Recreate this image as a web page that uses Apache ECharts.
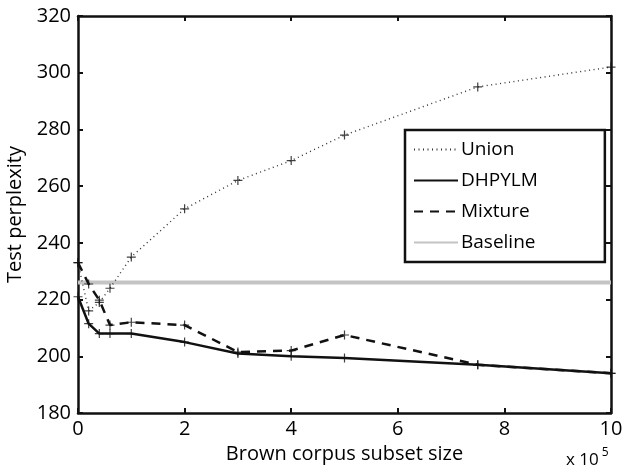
<!DOCTYPE html>
<html>
<head>
<meta charset="utf-8">
<script src="https://cdn.jsdelivr.net/npm/echarts@6/dist/echarts.min.js"></script>
<style>
  html, body { margin: 0; padding: 0; background: #fff; }
  #chart { width: 626px; height: 465px; }
</style>
</head>
<body>
<div id="chart"></div>
<script>
// subset sizes in units of 10^5 words
const sizes = [0, 0.2, 0.4, 0.6, 1, 2, 3, 4, 5, 7.5, 10];

const unionVals   = [233, 216, 219, 224, 235, 252, 262, 269, 278, 295, 302];
const dhpylmVals  = [221, 211.5, 208, 208, 208, 205, 201, 200, 199.4, 197, 194];
const mixtureVals = [233, 225.5, 219.8, 211, 212, 211, 201.5, 202, 207.5, 197, 194];
const baselineVal = 226;

const yTicks = [180, 200, 220, 240, 260, 280, 300, 320];
const xTicks = [0, 2, 4, 6, 8, 10];

const FONT = 'Open Sans';

function pairs(vals) {
  return sizes.map((x, i) => [x, vals[i]]);
}

const plus = 'path://M-1,0 L1,0 M0,-1 L0,1';

function markers(vals) {
  return {
    type: 'scatter',
    data: pairs(vals),
    symbol: plus,
    symbolSize: 9,
    itemStyle: { color: 'transparent', borderColor: '#111', borderWidth: 1.2 },
    silent: true,
    z: 5
  };
}

const chart = echarts.init(document.getElementById('chart'));

const axisLine = { show: true, onZero: false, lineStyle: { color: '#111', width: 2.5 } };
const tickIn = { show: true, inside: true, length: 5, lineStyle: { color: '#111', width: 2 } };

chart.setOption({
  animation: false,
  backgroundColor: '#fff',
  grid: { left: 78, right: 15, top: 16, bottom: 52, containLabel: false, outerBoundsMode: 'none' },
  legend: {
    orient: 'vertical',
    left: 405,
    top: 130,
    data: ['Union', 'DHPYLM', 'Mixture', 'Baseline'],
    itemWidth: 44,
    itemHeight: 14,
    itemGap: 12,
    padding: [10, 67, 10, 8],
    backgroundColor: '#fff',
    borderColor: '#111',
    borderWidth: 2.5,
    itemStyle: { opacity: 0 },
    textStyle: { fontFamily: FONT, fontSize: 19, color: '#000', padding: [0, 0, 0, -2] }
  },
  xAxis: [{
    type: 'value',
    min: 0, max: 10, interval: 2,
    name: 'Brown corpus subset size',
    nameLocation: 'middle',
    nameGap: 30,
    nameTextStyle: { fontFamily: FONT, fontSize: 20, color: '#000' },
    axisLine: axisLine,
    axisTick: tickIn,
    axisLabel: { fontFamily: FONT, fontSize: 20, color: '#000', margin: 6 },
    splitLine: { show: false }
  }, {
    type: 'value',
    position: 'top',
    min: 0, max: 10, interval: 2,
    axisLine: axisLine,
    axisTick: tickIn,
    axisLabel: { show: false },
    splitLine: { show: false }
  }],
  yAxis: [{
    type: 'value',
    min: 180, max: 320, interval: 20,
    name: 'Test perplexity',
    nameLocation: 'middle',
    nameGap: 48,
    nameTextStyle: { fontFamily: FONT, fontSize: 20, color: '#000' },
    axisLine: axisLine,
    axisTick: tickIn,
    axisLabel: { fontFamily: FONT, fontSize: 20, color: '#000', margin: 7 },
    splitLine: { show: false }
  }, {
    type: 'value',
    position: 'right',
    min: 180, max: 320, interval: 20,
    axisLine: axisLine,
    axisTick: tickIn,
    axisLabel: { show: false },
    splitLine: { show: false }
  }],
  graphic: [{
    type: 'text',
    left: 566,
    top: 447,
    style: {
      text: '{a|x 10}{b|5}',
      rich: {
        a: { fontFamily: FONT, fontSize: 17, color: '#000', padding: [8, 0, 0, 0] },
        b: { fontFamily: FONT, fontSize: 12, color: '#000', padding: [0, 0, 6, 3] }
      }
    }
  }],
  series: [
    {
      name: 'Union', type: 'line', data: pairs(unionVals),
      symbol: 'none', color: '#333',
      lineStyle: { color: '#333', width: 1.4, type: [1, 3.5] }, z: 3
    },
    {
      name: 'DHPYLM', type: 'line', data: pairs(dhpylmVals),
      symbol: 'none', color: '#111',
      lineStyle: { color: '#111', width: 2.5 }, z: 3
    },
    {
      name: 'Mixture', type: 'line', data: pairs(mixtureVals),
      symbol: 'none', color: '#111',
      lineStyle: { color: '#111', width: 2.5, type: [9, 7] }, z: 3
    },
    {
      name: 'Baseline', type: 'line', data: [[0, baselineVal], [10, baselineVal]],
      symbol: 'none', color: '#c4c4c4',
      lineStyle: { color: '#c4c4c4', width: 4 }, z: 2
    },
    markers(unionVals),
    markers(dhpylmVals),
    markers(mixtureVals)
  ]
});
</script>
</body>
</html>
